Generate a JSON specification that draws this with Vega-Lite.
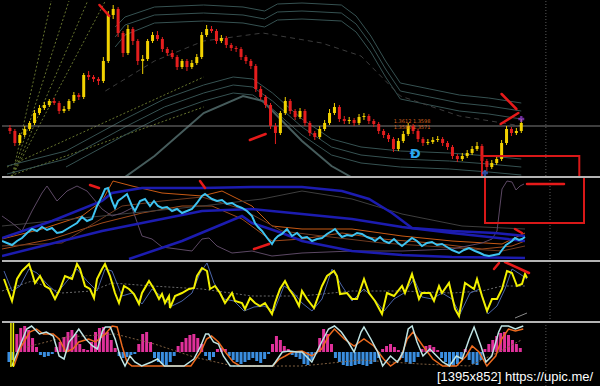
{
"$schema":"https://vega.github.io/schema/vega-lite/v6.json",
"background":"#000000",
"padding":0,
"spacing":0,
"bounds":"flush",
"config":{"view":{"stroke":null},"concat":{"spacing":0}},
"resolve":{"scale":{"color":"independent"}},
"datasets":{
"candles":[
{"x":3,"o":49,"c":46,"h":52,"l":43},{"x":8,"o":46,"c":34,"h":48,"l":31},{"x":13,"o":34,"c":42,"h":44,"l":32},{"x":18,"o":42,"c":48,"h":51,"l":40},{"x":23,"o":48,"c":54,"h":56,"l":46},{"x":28,"o":54,"c":64,"h":67,"l":52},{"x":33,"o":64,"c":69,"h":72,"l":62},{"x":38,"o":69,"c":72,"h":75,"l":67},{"x":43,"o":72,"c":76,"h":78,"l":70},{"x":48,"o":76,"c":74,"h":79,"l":72},{"x":53,"o":74,"c":66,"h":76,"l":63},{"x":58,"o":66,"c":68,"h":71,"l":64},{"x":63,"o":68,"c":76,"h":78,"l":66},{"x":68,"o":76,"c":82,"h":85,"l":74},{"x":73,"o":82,"c":80,"h":84,"l":77},{"x":78,"o":80,"c":102,"h":104,"l":78},{"x":83,"o":102,"c":100,"h":106,"l":97},{"x":88,"o":100,"c":98,"h":102,"l":95},{"x":93,"o":98,"c":96,"h":100,"l":92},{"x":98,"o":96,"c":116,"h":120,"l":94},{"x":103,"o":116,"c":162,"h":166,"l":114},{"x":108,"o":162,"c":168,"h":172,"l":158},{"x":113,"o":168,"c":144,"h":170,"l":140},{"x":118,"o":144,"c":124,"h":146,"l":120},{"x":123,"o":124,"c":148,"h":152,"l":122},{"x":128,"o":148,"c":136,"h":150,"l":132},{"x":133,"o":136,"c":116,"h":138,"l":112},{"x":138,"o":116,"c":118,"h":122,"l":103},{"x":143,"o":118,"c":136,"h":138,"l":116},{"x":148,"o":136,"c":142,"h":145,"l":134},{"x":153,"o":142,"c":138,"h":146,"l":136},{"x":158,"o":138,"c":128,"h":140,"l":125},{"x":163,"o":128,"c":124,"h":130,"l":121},{"x":168,"o":124,"c":120,"h":127,"l":118},{"x":173,"o":120,"c":110,"h":122,"l":107},{"x":178,"o":110,"c":116,"h":118,"l":108},{"x":183,"o":116,"c":110,"h":118,"l":106},{"x":188,"o":110,"c":114,"h":117,"l":108},{"x":193,"o":114,"c":120,"h":123,"l":112},{"x":198,"o":120,"c":142,"h":145,"l":118},{"x":203,"o":142,"c":148,"h":152,"l":140},{"x":208,"o":148,"c":146,"h":151,"l":144},{"x":213,"o":146,"c":136,"h":148,"l":133},{"x":218,"o":136,"c":139,"h":142,"l":134},{"x":223,"o":139,"c":132,"h":141,"l":129},{"x":228,"o":132,"c":129,"h":134,"l":126},{"x":233,"o":129,"c":128,"h":131,"l":125},{"x":238,"o":128,"c":120,"h":130,"l":117},{"x":243,"o":120,"c":116,"h":122,"l":113},{"x":248,"o":116,"c":111,"h":118,"l":108},{"x":253,"o":111,"c":88,"h":113,"l":85},{"x":258,"o":88,"c":80,"h":91,"l":77},{"x":263,"o":80,"c":72,"h":82,"l":69},{"x":268,"o":72,"c":51,"h":74,"l":48},{"x":273,"o":51,"c":44,"h":54,"l":33},{"x":278,"o":44,"c":64,"h":66,"l":42},{"x":283,"o":64,"c":76,"h":80,"l":62},{"x":288,"o":76,"c":66,"h":78,"l":63},{"x":293,"o":66,"c":60,"h":68,"l":57},{"x":298,"o":60,"c":66,"h":69,"l":58},{"x":303,"o":66,"c":54,"h":68,"l":51},{"x":308,"o":54,"c":44,"h":56,"l":41},{"x":313,"o":44,"c":40,"h":46,"l":37},{"x":318,"o":40,"c":48,"h":51,"l":38},{"x":323,"o":48,"c":54,"h":57,"l":46},{"x":328,"o":54,"c":64,"h":68,"l":52},{"x":333,"o":64,"c":70,"h":74,"l":62},{"x":338,"o":70,"c":58,"h":72,"l":55},{"x":343,"o":58,"c":56,"h":61,"l":53},{"x":348,"o":56,"c":57,"h":60,"l":53},{"x":353,"o":57,"c":54,"h":59,"l":51},{"x":358,"o":54,"c":60,"h":63,"l":52},{"x":363,"o":60,"c":61,"h":64,"l":57},{"x":368,"o":61,"c":56,"h":63,"l":53},{"x":373,"o":56,"c":53,"h":58,"l":50},{"x":378,"o":53,"c":46,"h":55,"l":43},{"x":383,"o":46,"c":42,"h":48,"l":39},{"x":388,"o":42,"c":38,"h":44,"l":35},{"x":393,"o":38,"c":28,"h":40,"l":25},{"x":398,"o":28,"c":36,"h":39,"l":26},{"x":403,"o":36,"c":43,"h":46,"l":34},{"x":408,"o":43,"c":51,"h":54,"l":41},{"x":413,"o":51,"c":46,"h":53,"l":43},{"x":418,"o":46,"c":38,"h":48,"l":35},{"x":423,"o":38,"c":34,"h":40,"l":31},{"x":428,"o":34,"c":35,"h":38,"l":32},{"x":433,"o":35,"c":37,"h":40,"l":33},{"x":438,"o":37,"c":38,"h":41,"l":35},{"x":443,"o":38,"c":34,"h":40,"l":31},{"x":448,"o":34,"c":30,"h":36,"l":27},{"x":453,"o":30,"c":21,"h":32,"l":18},{"x":458,"o":21,"c":18,"h":23,"l":15},{"x":463,"o":18,"c":21,"h":24,"l":16},{"x":468,"o":21,"c":24,"h":27,"l":19},{"x":473,"o":24,"c":28,"h":31,"l":22},{"x":478,"o":28,"c":31,"h":35,"l":26},{"x":483,"o":31,"c":16,"h":33,"l":13},{"x":488,"o":16,"c":10,"h":18,"l":6},{"x":493,"o":10,"c":14,"h":17,"l":8},{"x":498,"o":14,"c":18,"h":21,"l":12},{"x":503,"o":18,"c":34,"h":37,"l":16},{"x":508,"o":34,"c":48,"h":51,"l":32},{"x":513,"o":48,"c":44,"h":50,"l":41},{"x":518,"o":44,"c":46,"h":49,"l":42},{"x":523,"o":46,"c":54,"h":58,"l":44}
],
"bands":[
{"s":"ub1","x":110,"v":150},{"s":"ub1","x":120,"v":160},{"s":"ub1","x":150,"v":170},{"s":"ub1","x":200,"v":172},{"s":"ub1","x":240,"v":170},{"s":"ub1","x":262,"v":166},{"s":"ub1","x":275,"v":173},{"s":"ub1","x":300,"v":174},{"s":"ub1","x":340,"v":172},{"s":"ub1","x":355,"v":161},{"s":"ub1","x":370,"v":141},{"s":"ub1","x":385,"v":116},{"s":"ub1","x":400,"v":94},{"s":"ub1","x":430,"v":88},{"s":"ub1","x":460,"v":82},{"s":"ub1","x":490,"v":79},{"s":"ub1","x":523,"v":74},
{"s":"ub2","x":110,"v":140},{"s":"ub2","x":120,"v":152},{"s":"ub2","x":150,"v":162},{"s":"ub2","x":200,"v":164},{"s":"ub2","x":240,"v":162},{"s":"ub2","x":262,"v":158},{"s":"ub2","x":275,"v":165},{"s":"ub2","x":300,"v":166},{"s":"ub2","x":340,"v":164},{"s":"ub2","x":355,"v":153},{"s":"ub2","x":370,"v":133},{"s":"ub2","x":385,"v":108},{"s":"ub2","x":400,"v":86},{"s":"ub2","x":430,"v":80},{"s":"ub2","x":460,"v":74},{"s":"ub2","x":490,"v":71},{"s":"ub2","x":523,"v":66},
{"s":"ub3","x":110,"v":130},{"s":"ub3","x":120,"v":142},{"s":"ub3","x":150,"v":154},{"s":"ub3","x":200,"v":156},{"s":"ub3","x":240,"v":154},{"s":"ub3","x":262,"v":150},{"s":"ub3","x":275,"v":157},{"s":"ub3","x":300,"v":158},{"s":"ub3","x":340,"v":156},{"s":"ub3","x":355,"v":145},{"s":"ub3","x":370,"v":125},{"s":"ub3","x":385,"v":100},{"s":"ub3","x":400,"v":78},{"s":"ub3","x":430,"v":72},{"s":"ub3","x":460,"v":66},{"s":"ub3","x":490,"v":63},{"s":"ub3","x":523,"v":58},
{"s":"lb1","x":0,"v":11},{"s":"lb1","x":60,"v":26},{"s":"lb1","x":120,"v":58},{"s":"lb1","x":160,"v":78},{"s":"lb1","x":200,"v":92},{"s":"lb1","x":230,"v":100},{"s":"lb1","x":250,"v":98},{"s":"lb1","x":270,"v":84},{"s":"lb1","x":300,"v":58},{"s":"lb1","x":330,"v":38},{"s":"lb1","x":360,"v":30},{"s":"lb1","x":400,"v":26},{"s":"lb1","x":450,"v":24},{"s":"lb1","x":490,"v":21},{"s":"lb1","x":523,"v":18},
{"s":"lb2","x":0,"v":3},{"s":"lb2","x":60,"v":18},{"s":"lb2","x":120,"v":50},{"s":"lb2","x":160,"v":70},{"s":"lb2","x":200,"v":84},{"s":"lb2","x":230,"v":92},{"s":"lb2","x":250,"v":90},{"s":"lb2","x":270,"v":76},{"s":"lb2","x":300,"v":50},{"s":"lb2","x":330,"v":30},{"s":"lb2","x":360,"v":22},{"s":"lb2","x":400,"v":18},{"s":"lb2","x":450,"v":16},{"s":"lb2","x":490,"v":13},{"s":"lb2","x":523,"v":10},
{"s":"lb3","x":60,"v":10},{"s":"lb3","x":120,"v":42},{"s":"lb3","x":160,"v":62},{"s":"lb3","x":200,"v":76},{"s":"lb3","x":230,"v":84},{"s":"lb3","x":250,"v":82},{"s":"lb3","x":270,"v":68},{"s":"lb3","x":300,"v":42},{"s":"lb3","x":330,"v":22},{"s":"lb3","x":360,"v":14},{"s":"lb3","x":400,"v":10},{"s":"lb3","x":450,"v":8},{"s":"lb3","x":490,"v":5},{"s":"lb3","x":523,"v":2}
],
"lb4":[{"x":120,"v":0},{"x":150,"v":21},{"x":200,"v":64},{"x":240,"v":81},{"x":260,"v":76},{"x":300,"v":36},{"x":330,"v":11},{"x":350,"v":0}],
"mid":[{"x":100,"v":86},{"x":150,"v":116},{"x":200,"v":136},{"x":260,"v":144},{"x":320,"v":134},{"x":360,"v":121},{"x":400,"v":81},{"x":460,"v":61},{"x":523,"v":51}],
"fans":[{"s":"f1","x":5,"v":0},{"s":"f1","x":45,"v":176},{"s":"f2","x":5,"v":0},{"s":"f2","x":63,"v":176},{"s":"f3","x":5,"v":0},{"s":"f3","x":82,"v":176},{"s":"f4","x":5,"v":0},{"s":"f4","x":100,"v":176},{"s":"f5","x":0,"v":10},{"s":"f5","x":200,"v":100},{"s":"f6","x":0,"v":0},{"s":"f6","x":200,"v":70}],
"arr1":[{"x":94,"v":172,"x2":104,"v2":161},{"x":247,"v":37,"x2":263,"v2":43},{"x":503,"v":83,"x2":518,"v2":68},{"x":502,"v":53,"x2":520,"v2":64}],
"cyan":[{"x":0,"v":20},{"x":5,"v":18},{"x":10,"v":16},{"x":15,"v":20},{"x":20,"v":23},{"x":25,"v":28},{"x":30,"v":32},{"x":35,"v":30},{"x":40,"v":34},{"x":45,"v":31},{"x":50,"v":33},{"x":55,"v":28},{"x":60,"v":29},{"x":65,"v":32},{"x":70,"v":35},{"x":75,"v":38},{"x":80,"v":44},{"x":85,"v":40},{"x":90,"v":42},{"x":95,"v":55},{"x":100,"v":65},{"x":103,"v":72},{"x":106,"v":73},{"x":110,"v":60},{"x":113,"v":53},{"x":116,"v":60},{"x":120,"v":63},{"x":125,"v":67},{"x":130,"v":55},{"x":133,"v":50},{"x":138,"v":60},{"x":143,"v":62},{"x":148,"v":55},{"x":152,"v":60},{"x":156,"v":55},{"x":160,"v":53},{"x":165,"v":54},{"x":170,"v":50},{"x":175,"v":52},{"x":180,"v":48},{"x":185,"v":50},{"x":190,"v":52},{"x":195,"v":58},{"x":200,"v":65},{"x":203,"v":67},{"x":207,"v":64},{"x":210,"v":62},{"x":215,"v":60},{"x":220,"v":61},{"x":225,"v":57},{"x":230,"v":58},{"x":235,"v":55},{"x":240,"v":53},{"x":245,"v":50},{"x":250,"v":45},{"x":253,"v":38},{"x":256,"v":34},{"x":260,"v":30},{"x":263,"v":26},{"x":266,"v":22},{"x":270,"v":17},{"x":273,"v":22},{"x":276,"v":25},{"x":280,"v":27},{"x":285,"v":32},{"x":290,"v":25},{"x":295,"v":28},{"x":300,"v":23},{"x":305,"v":24},{"x":310,"v":20},{"x":315,"v":22},{"x":320,"v":23},{"x":325,"v":27},{"x":330,"v":30},{"x":333,"v":32},{"x":337,"v":27},{"x":340,"v":24},{"x":345,"v":26},{"x":350,"v":25},{"x":355,"v":28},{"x":360,"v":27},{"x":365,"v":24},{"x":370,"v":22},{"x":373,"v":20},{"x":378,"v":24},{"x":382,"v":20},{"x":387,"v":18},{"x":392,"v":22},{"x":396,"v":18},{"x":400,"v":15},{"x":405,"v":19},{"x":410,"v":23},{"x":415,"v":20},{"x":420,"v":15},{"x":425,"v":18},{"x":430,"v":19},{"x":435,"v":16},{"x":440,"v":17},{"x":445,"v":14},{"x":450,"v":11},{"x":457,"v":8},{"x":462,"v":11},{"x":467,"v":13},{"x":473,"v":10},{"x":478,"v":8},{"x":482,"v":6},{"x":487,"v":5},{"x":492,"v":6},{"x":497,"v":7},{"x":500,"v":11},{"x":504,"v":16},{"x":507,"v":18},{"x":510,"v":20},{"x":513,"v":23},{"x":517,"v":21},{"x":520,"v":22},{"x":523,"v":24}],
"blue2":[
{"s":"b1","x":0,"v":23},{"s":"b1","x":50,"v":40},{"s":"b1","x":100,"v":60},{"s":"b1","x":110,"v":68},{"s":"b1","x":140,"v":73},{"s":"b1","x":200,"v":73},{"s":"b1","x":250,"v":74},{"s":"b1","x":300,"v":74},{"s":"b1","x":340,"v":70},{"s":"b1","x":367,"v":62},{"s":"b1","x":390,"v":48},{"s":"b1","x":410,"v":33},{"s":"b1","x":450,"v":30},{"s":"b1","x":493,"v":28},{"s":"b1","x":523,"v":25},
{"s":"b2","x":0,"v":5},{"s":"b2","x":100,"v":30},{"s":"b2","x":200,"v":50},{"s":"b2","x":250,"v":52},{"s":"b2","x":300,"v":47},{"s":"b2","x":350,"v":42},{"s":"b2","x":400,"v":34},{"s":"b2","x":450,"v":28},{"s":"b2","x":523,"v":20},
{"s":"b3","x":127,"v":2},{"s":"b3","x":180,"v":20},{"s":"b3","x":240,"v":45},{"s":"b3","x":250,"v":38},{"s":"b3","x":280,"v":28},{"s":"b3","x":300,"v":20},{"s":"b3","x":350,"v":10},{"s":"b3","x":400,"v":6},{"s":"b3","x":450,"v":4},{"s":"b3","x":523,"v":3}
],
"thin2":[
{"s":"o1","x":0,"v":22},{"s":"o1","x":40,"v":32},{"s":"o1","x":80,"v":45},{"s":"o1","x":100,"v":60},{"s":"o1","x":111,"v":80},{"s":"o1","x":130,"v":75},{"s":"o1","x":160,"v":68},{"s":"o1","x":200,"v":65},{"s":"o1","x":220,"v":70},{"s":"o1","x":250,"v":55},{"s":"o1","x":270,"v":35},{"s":"o1","x":300,"v":32},{"s":"o1","x":350,"v":32},{"s":"o1","x":400,"v":25},{"s":"o1","x":450,"v":20},{"s":"o1","x":500,"v":17},{"s":"o1","x":523,"v":28},
{"s":"o2","x":0,"v":12},{"s":"o2","x":50,"v":22},{"s":"o2","x":100,"v":38},{"s":"o2","x":140,"v":48},{"s":"o2","x":180,"v":55},{"s":"o2","x":210,"v":55},{"s":"o2","x":240,"v":42},{"s":"o2","x":270,"v":20},{"s":"o2","x":300,"v":22},{"s":"o2","x":340,"v":28},{"s":"o2","x":380,"v":22},{"s":"o2","x":430,"v":18},{"s":"o2","x":480,"v":12},{"s":"o2","x":510,"v":15},{"s":"o2","x":523,"v":20},
{"s":"o3","x":0,"v":15},{"s":"o3","x":60,"v":18},{"s":"o3","x":120,"v":55},{"s":"o3","x":160,"v":60},{"s":"o3","x":200,"v":64},{"s":"o3","x":240,"v":52},{"s":"o3","x":280,"v":30},{"s":"o3","x":320,"v":25},{"s":"o3","x":380,"v":18},{"s":"o3","x":440,"v":14},{"s":"o3","x":500,"v":10},{"s":"o3","x":523,"v":15},
{"s":"gray","x":0,"v":35},{"s":"gray","x":100,"v":45},{"s":"gray","x":200,"v":55},{"s":"gray","x":260,"v":62},{"s":"gray","x":300,"v":70},{"s":"gray","x":350,"v":62},{"s":"gray","x":400,"v":47},{"s":"gray","x":460,"v":35},{"s":"gray","x":523,"v":32},
{"s":"purple","x":0,"v":45},{"s":"purple","x":10,"v":38},{"s":"purple","x":20,"v":30},{"s":"purple","x":30,"v":50},{"s":"purple","x":40,"v":68},{"s":"purple","x":45,"v":75},{"s":"purple","x":55,"v":60},{"s":"purple","x":65,"v":70},{"s":"purple","x":75,"v":75},{"s":"purple","x":85,"v":70},{"s":"purple","x":100,"v":52},{"s":"purple","x":110,"v":45},{"s":"purple","x":120,"v":48},{"s":"purple","x":130,"v":53},{"s":"purple","x":140,"v":25},{"s":"purple","x":150,"v":22},{"s":"purple","x":160,"v":14},{"s":"purple","x":175,"v":12},{"s":"purple","x":190,"v":10},{"s":"purple","x":200,"v":22},{"s":"purple","x":207,"v":23},{"s":"purple","x":215,"v":15},{"s":"purple","x":230,"v":8},{"s":"purple","x":250,"v":10},{"s":"purple","x":270,"v":5},{"s":"purple","x":300,"v":8},{"s":"purple","x":350,"v":10},{"s":"purple","x":400,"v":10},{"s":"purple","x":450,"v":12},{"s":"purple","x":480,"v":18},{"s":"purple","x":490,"v":22},{"s":"purple","x":495,"v":30},{"s":"purple","x":500,"v":72},{"s":"purple","x":505,"v":80},{"s":"purple","x":510,"v":79},{"s":"purple","x":514,"v":71},{"s":"purple","x":518,"v":75},{"s":"purple","x":522,"v":77}
],
"arr2":[{"x":88,"v":76,"x2":97,"v2":73},{"x":198,"v":80,"x2":203,"v2":73},{"x":252,"v":12,"x2":267,"v2":17},{"x":513,"v":32,"x2":520,"v2":28},{"x":525,"v":77,"x2":562,"v2":77}],
"yel":[{"x":2,"v":43},{"x":7,"v":29},{"x":10,"v":21},{"x":15,"v":43},{"x":20,"v":51},{"x":27,"v":58},{"x":30,"v":49},{"x":33,"v":39},{"x":38,"v":46},{"x":43,"v":36},{"x":48,"v":33},{"x":53,"v":23},{"x":58,"v":33},{"x":63,"v":46},{"x":70,"v":43},{"x":75,"v":58},{"x":78,"v":53},{"x":83,"v":36},{"x":88,"v":33},{"x":92,"v":24},{"x":95,"v":43},{"x":100,"v":53},{"x":103,"v":58},{"x":108,"v":46},{"x":113,"v":29},{"x":117,"v":19},{"x":122,"v":36},{"x":127,"v":33},{"x":132,"v":28},{"x":137,"v":18},{"x":140,"v":29},{"x":147,"v":41},{"x":152,"v":33},{"x":157,"v":23},{"x":160,"v":28},{"x":163,"v":19},{"x":167,"v":26},{"x":168,"v":14},{"x":173,"v":26},{"x":180,"v":29},{"x":187,"v":33},{"x":192,"v":34},{"x":195,"v":46},{"x":200,"v":54},{"x":205,"v":51},{"x":208,"v":33},{"x":213,"v":36},{"x":218,"v":29},{"x":223,"v":19},{"x":230,"v":29},{"x":233,"v":21},{"x":240,"v":19},{"x":243,"v":13},{"x":248,"v":24},{"x":253,"v":19},{"x":258,"v":16},{"x":263,"v":19},{"x":270,"v":8},{"x":273,"v":19},{"x":278,"v":33},{"x":283,"v":41},{"x":287,"v":33},{"x":292,"v":26},{"x":297,"v":16},{"x":300,"v":31},{"x":305,"v":23},{"x":312,"v":14},{"x":320,"v":36},{"x":325,"v":46},{"x":332,"v":51},{"x":335,"v":46},{"x":338,"v":28},{"x":345,"v":29},{"x":350,"v":23},{"x":355,"v":23},{"x":362,"v":43},{"x":367,"v":29},{"x":373,"v":21},{"x":380,"v":8},{"x":385,"v":29},{"x":392,"v":26},{"x":400,"v":36},{"x":403,"v":29},{"x":410,"v":48},{"x":417,"v":23},{"x":420,"v":29},{"x":428,"v":29},{"x":432,"v":21},{"x":437,"v":36},{"x":440,"v":29},{"x":447,"v":39},{"x":453,"v":13},{"x":457,"v":6},{"x":463,"v":39},{"x":472,"v":33},{"x":475,"v":43},{"x":480,"v":26},{"x":485,"v":11},{"x":490,"v":23},{"x":495,"v":23},{"x":500,"v":33},{"x":505,"v":51},{"x":510,"v":49},{"x":515,"v":36},{"x":520,"v":38},{"x":523,"v":48},{"x":525,"v":44}],
"lag":[{"x":2,"v":51},{"x":10,"v":31},{"x":18,"v":36},{"x":27,"v":53},{"x":35,"v":49},{"x":45,"v":38},{"x":55,"v":29},{"x":65,"v":41},{"x":75,"v":53},{"x":85,"v":41},{"x":95,"v":31},{"x":103,"v":53},{"x":110,"v":51},{"x":120,"v":26},{"x":130,"v":29},{"x":140,"v":18},{"x":150,"v":33},{"x":160,"v":25},{"x":170,"v":16},{"x":180,"v":21},{"x":190,"v":29},{"x":198,"v":49},{"x":205,"v":59},{"x":212,"v":39},{"x":222,"v":23},{"x":232,"v":21},{"x":242,"v":11},{"x":252,"v":15},{"x":262,"v":16},{"x":272,"v":11},{"x":282,"v":36},{"x":290,"v":31},{"x":300,"v":19},{"x":310,"v":11},{"x":320,"v":23},{"x":330,"v":53},{"x":340,"v":36},{"x":350,"v":21},{"x":362,"v":33},{"x":372,"v":23},{"x":382,"v":11},{"x":392,"v":23},{"x":402,"v":29},{"x":412,"v":43},{"x":420,"v":25},{"x":430,"v":23},{"x":440,"v":29},{"x":450,"v":23},{"x":458,"v":8},{"x":468,"v":29},{"x":478,"v":33},{"x":486,"v":8},{"x":495,"v":16},{"x":503,"v":33},{"x":510,"v":53},{"x":518,"v":48},{"x":525,"v":43}],
"dot3":[{"x":0,"v":31},{"x":30,"v":41},{"x":60,"v":29},{"x":90,"v":31},{"x":110,"v":39},{"x":150,"v":36},{"x":200,"v":33},{"x":250,"v":26},{"x":300,"v":26},{"x":350,"v":31},{"x":400,"v":31},{"x":450,"v":29},{"x":480,"v":31},{"x":500,"v":36},{"x":523,"v":36}],
"arr3":[{"x":492,"v":53,"x2":497,"v2":59},{"x":503,"v":60,"x2":527,"v2":49}],
"hist":[{"x":2,"v":-10},{"x":6,"v":-8},{"x":10,"v":18},{"x":14,"v":24},{"x":18,"v":26},{"x":22,"v":22},{"x":26,"v":14},{"x":30,"v":5},{"x":34,"v":-3},{"x":38,"v":-5},{"x":42,"v":-4},{"x":46,"v":-2},{"x":50,"v":5},{"x":54,"v":10},{"x":58,"v":15},{"x":62,"v":20},{"x":66,"v":22},{"x":70,"v":18},{"x":74,"v":8},{"x":78,"v":3},{"x":82,"v":2},{"x":86,"v":10},{"x":90,"v":20},{"x":94,"v":24},{"x":98,"v":25},{"x":102,"v":20},{"x":106,"v":12},{"x":110,"v":4},{"x":114,"v":-4},{"x":118,"v":-6},{"x":122,"v":-5},{"x":126,"v":-3},{"x":130,"v":-2},{"x":134,"v":8},{"x":138,"v":18},{"x":142,"v":20},{"x":146,"v":10},{"x":150,"v":-6},{"x":154,"v":-10},{"x":158,"v":-12},{"x":162,"v":-13},{"x":166,"v":-10},{"x":170,"v":-4},{"x":174,"v":6},{"x":178,"v":10},{"x":182,"v":14},{"x":186,"v":17},{"x":190,"v":18},{"x":194,"v":14},{"x":198,"v":8},{"x":202,"v":-4},{"x":206,"v":-8},{"x":210,"v":-5},{"x":214,"v":3},{"x":218,"v":4},{"x":222,"v":3},{"x":226,"v":-4},{"x":230,"v":-8},{"x":234,"v":-10},{"x":238,"v":-12},{"x":242,"v":-10},{"x":246,"v":-8},{"x":250,"v":-6},{"x":254,"v":-9},{"x":258,"v":-11},{"x":262,"v":-7},{"x":266,"v":-2},{"x":270,"v":8},{"x":274,"v":16},{"x":278,"v":12},{"x":282,"v":6},{"x":286,"v":3},{"x":290,"v":-3},{"x":294,"v":-5},{"x":298,"v":-7},{"x":302,"v":-12},{"x":306,"v":-13},{"x":310,"v":-8},{"x":314,"v":-2},{"x":318,"v":14},{"x":322,"v":23},{"x":326,"v":18},{"x":330,"v":8},{"x":334,"v":-6},{"x":338,"v":-10},{"x":342,"v":-13},{"x":346,"v":-14},{"x":350,"v":-14},{"x":354,"v":-13},{"x":358,"v":-12},{"x":362,"v":-13},{"x":366,"v":-14},{"x":370,"v":-12},{"x":374,"v":-10},{"x":378,"v":-6},{"x":382,"v":3},{"x":386,"v":6},{"x":390,"v":8},{"x":394,"v":5},{"x":398,"v":2},{"x":402,"v":-6},{"x":406,"v":-10},{"x":410,"v":-12},{"x":414,"v":-10},{"x":418,"v":-5},{"x":422,"v":3},{"x":426,"v":6},{"x":430,"v":7},{"x":434,"v":5},{"x":438,"v":2},{"x":442,"v":-6},{"x":446,"v":-10},{"x":450,"v":-13},{"x":454,"v":-14},{"x":458,"v":-12},{"x":462,"v":-6},{"x":466,"v":3},{"x":470,"v":-8},{"x":474,"v":-12},{"x":478,"v":-13},{"x":482,"v":-8},{"x":486,"v":3},{"x":490,"v":8},{"x":494,"v":12},{"x":498,"v":16},{"x":502,"v":19},{"x":506,"v":20},{"x":510,"v":17},{"x":514,"v":12},{"x":518,"v":8},{"x":522,"v":4}],
"light":[{"x":5,"v":-14},{"x":20,"v":23},{"x":25,"v":26},{"x":33,"v":18},{"x":40,"v":20},{"x":47,"v":16},{"x":53,"v":-4},{"x":58,"v":-7},{"x":63,"v":10},{"x":68,"v":16},{"x":73,"v":23},{"x":80,"v":13},{"x":87,"v":6},{"x":92,"v":3},{"x":97,"v":21},{"x":100,"v":25},{"x":105,"v":25},{"x":110,"v":13},{"x":115,"v":-4},{"x":120,"v":-14},{"x":125,"v":-4},{"x":130,"v":-10},{"x":137,"v":-14},{"x":147,"v":-10},{"x":153,"v":-7},{"x":160,"v":-14},{"x":180,"v":-14},{"x":190,"v":-7},{"x":197,"v":6},{"x":202,"v":18},{"x":205,"v":18},{"x":210,"v":10},{"x":215,"v":8},{"x":220,"v":-4},{"x":227,"v":-14},{"x":270,"v":-14},{"x":273,"v":-10},{"x":280,"v":0},{"x":287,"v":1},{"x":295,"v":0},{"x":300,"v":0},{"x":310,"v":-10},{"x":320,"v":10},{"x":327,"v":23},{"x":333,"v":26},{"x":340,"v":20},{"x":347,"v":10},{"x":353,"v":0},{"x":360,"v":20},{"x":363,"v":25},{"x":370,"v":13},{"x":377,"v":0},{"x":382,"v":-14},{"x":390,"v":-4},{"x":397,"v":-10},{"x":403,"v":0},{"x":408,"v":23},{"x":412,"v":26},{"x":417,"v":10},{"x":423,"v":-4},{"x":430,"v":3},{"x":437,"v":-4},{"x":443,"v":-10},{"x":450,"v":-14},{"x":457,"v":-4},{"x":463,"v":-7},{"x":470,"v":13},{"x":475,"v":25},{"x":482,"v":6},{"x":487,"v":-10},{"x":493,"v":-4},{"x":500,"v":20},{"x":503,"v":26},{"x":510,"v":26},{"x":517,"v":23},{"x":525,"v":26}],
"orange":[{"x":7,"v":-14},{"x":13,"v":3},{"x":23,"v":20},{"x":30,"v":23},{"x":37,"v":18},{"x":47,"v":18},{"x":53,"v":13},{"x":60,"v":0},{"x":67,"v":3},{"x":73,"v":10},{"x":83,"v":13},{"x":90,"v":10},{"x":100,"v":18},{"x":107,"v":26},{"x":112,"v":25},{"x":117,"v":6},{"x":122,"v":-10},{"x":127,"v":-14},{"x":187,"v":-14},{"x":197,"v":0},{"x":203,"v":13},{"x":208,"v":16},{"x":215,"v":10},{"x":222,"v":0},{"x":230,"v":-10},{"x":237,"v":-14},{"x":270,"v":-14},{"x":277,"v":-7},{"x":283,"v":-4},{"x":290,"v":0},{"x":300,"v":1},{"x":310,"v":-4},{"x":320,"v":3},{"x":327,"v":16},{"x":333,"v":23},{"x":343,"v":13},{"x":353,"v":6},{"x":363,"v":13},{"x":373,"v":6},{"x":383,"v":-7},{"x":390,"v":-14},{"x":400,"v":-7},{"x":407,"v":13},{"x":413,"v":20},{"x":423,"v":6},{"x":433,"v":-7},{"x":443,"v":-14},{"x":457,"v":-14},{"x":467,"v":-4},{"x":473,"v":6},{"x":480,"v":0},{"x":488,"v":-14},{"x":497,"v":-4},{"x":503,"v":13},{"x":510,"v":23},{"x":517,"v":21},{"x":525,"v":23}],
"dot4":[{"x":20,"v":5},{"x":60,"v":15},{"x":110,"v":18},{"x":150,"v":8},{"x":190,"v":-5},{"x":230,"v":-14},{"x":300,"v":-14},{"x":360,"v":-8},{"x":420,"v":-12},{"x":470,"v":-14},{"x":500,"v":0},{"x":523,"v":12}]
},
"vconcat":[
{"width":600,"height":176,
"layer":[
{"data":{"name":"fans"},"mark":{"type":"line","color":"#66742e","strokeWidth":1,"strokeDash":[2,2],"clip":true},"encoding":{"x":{"field":"x","type":"quantitative","scale":{"domain":[0,600],"nice":false,"zero":false},"axis":null},"y":{"field":"v","type":"quantitative","scale":{"domain":[0,176],"nice":false,"zero":false},"axis":null},"detail":{"field":"s"}}},
{"data":{"name":"bands"},"mark":{"type":"line","color":"#365252","strokeWidth":1,"clip":true},"encoding":{"x":{"field":"x","type":"quantitative","scale":{"domain":[0,600],"nice":false,"zero":false},"axis":null},"y":{"field":"v","type":"quantitative","scale":{"domain":[0,176],"nice":false,"zero":false},"axis":null},"detail":{"field":"s"}}},
{"data":{"name":"lb4"},"mark":{"type":"line","color":"#465c5c","strokeWidth":2,"clip":true},"encoding":{"x":{"field":"x","type":"quantitative","scale":{"domain":[0,600],"nice":false,"zero":false},"axis":null},"y":{"field":"v","type":"quantitative","scale":{"domain":[0,176],"nice":false,"zero":false},"axis":null}}},
{"data":{"name":"mid"},"mark":{"type":"line","color":"#3c3c3c","strokeWidth":1,"strokeDash":[5,4],"clip":true},"encoding":{"x":{"field":"x","type":"quantitative","scale":{"domain":[0,600],"nice":false,"zero":false},"axis":null},"y":{"field":"v","type":"quantitative","scale":{"domain":[0,176],"nice":false,"zero":false},"axis":null}}},
{"data":{"values":[{}]},"mark":{"type":"rule","color":"#7c7c7c","strokeWidth":1},"encoding":{"y":{"datum":51,"type":"quantitative","scale":{"domain":[0,176],"nice":false,"zero":false},"axis":null}}},
{"data":{"values":[{}]},"mark":{"type":"rule","color":"#5a5a5a","strokeDash":[1,2]},"encoding":{"x":{"datum":548,"type":"quantitative","scale":{"domain":[0,600],"nice":false,"zero":false},"axis":null}}},
{"data":{"name":"candles"},"mark":{"type":"rule","strokeWidth":1,"clip":true},"encoding":{"x":{"field":"x","type":"quantitative","scale":{"domain":[0,600],"nice":false,"zero":false},"axis":null},"y":{"field":"l","type":"quantitative","scale":{"domain":[0,176],"nice":false,"zero":false},"axis":null},"y2":{"field":"h"},"color":{"condition":{"test":"datum.c > datum.o","value":"#f2d200"},"value":"#e41e1e"}}},
{"data":{"name":"candles"},"mark":{"type":"bar","size":3,"clip":true},"encoding":{"x":{"field":"x","type":"quantitative","scale":{"domain":[0,600],"nice":false,"zero":false},"axis":null},"y":{"field":"o","type":"quantitative","scale":{"domain":[0,176],"nice":false,"zero":false},"axis":null},"y2":{"field":"c"},"color":{"condition":{"test":"datum.c > datum.o","value":"#f2d200"},"value":"#e41e1e"}}},
{"data":{"name":"arr1"},"mark":{"type":"rule","color":"#e61a1a","strokeWidth":2.5,"strokeCap":"round","clip":true},"encoding":{"x":{"field":"x","type":"quantitative","scale":{"domain":[0,600],"nice":false,"zero":false},"axis":null},"x2":{"field":"x2"},"y":{"field":"v","type":"quantitative","scale":{"domain":[0,176],"nice":false,"zero":false},"axis":null},"y2":{"field":"v2"}}},
{"data":{"values":[{"x":483,"x2":582,"v":21,"v2":-20}]},"mark":{"type":"rect","fillOpacity":0,"stroke":"#d81818","strokeWidth":2,"clip":true},"encoding":{"x":{"field":"x","type":"quantitative","scale":{"domain":[0,600],"nice":false,"zero":false},"axis":null},"x2":{"field":"x2"},"y":{"field":"v","type":"quantitative","scale":{"domain":[0,176],"nice":false,"zero":false},"axis":null},"y2":{"field":"v2"}}},
{"data":{"values":[{"x":415,"v":23,"t":"Đ"}]},"mark":{"type":"text","color":"#2aa8f0","fontSize":13,"fontWeight":"bold","font":"DejaVu Sans"},"encoding":{"x":{"field":"x","type":"quantitative","scale":{"domain":[0,600],"nice":false,"zero":false},"axis":null},"y":{"field":"v","type":"quantitative","scale":{"domain":[0,176],"nice":false,"zero":false},"axis":null},"text":{"field":"t"}}},
{"data":{"values":[{"x":412,"v":56,"t":"1.3612 1.3598"},{"x":412,"v":50,"t":"1.3580 1.3571"}]},"mark":{"type":"text","color":"#d8641e","fontSize":5,"font":"DejaVu Sans"},"encoding":{"x":{"field":"x","type":"quantitative","scale":{"domain":[0,600],"nice":false,"zero":false},"axis":null},"y":{"field":"v","type":"quantitative","scale":{"domain":[0,176],"nice":false,"zero":false},"axis":null},"text":{"field":"t"}}},
{"data":{"values":[{"x":523,"v":58,"k":"a"},{"x":486,"v":4,"k":"b"}]},"mark":{"type":"point","shape":"cross","filled":true,"size":35},"encoding":{"x":{"field":"x","type":"quantitative","scale":{"domain":[0,600],"nice":false,"zero":false},"axis":null},"y":{"field":"v","type":"quantitative","scale":{"domain":[0,176],"nice":false,"zero":false},"axis":null},"color":{"condition":{"test":"datum.k == 'a'","value":"#a040e0"},"value":"#3a6ae0"}}}
]},
{"width":600,"height":84,
"layer":[
{"data":{"values":[{}]},"mark":{"type":"rule","color":"#5a5a5a","strokeDash":[1,2]},"encoding":{"x":{"datum":548,"type":"quantitative","scale":{"domain":[0,600],"nice":false,"zero":false},"axis":null}}},
{"data":{"name":"thin2"},"mark":{"type":"line","strokeWidth":1,"clip":true},"encoding":{"x":{"field":"x","type":"quantitative","scale":{"domain":[0,600],"nice":false,"zero":false},"axis":null},"y":{"field":"v","type":"quantitative","scale":{"domain":[0,84],"nice":false,"zero":false},"axis":null},"color":{"field":"s","type":"nominal","scale":{"domain":["o1","o2","o3","gray","purple"],"range":["#c85a14","#a04a1a","#6e3a20","#3e3e3e","#5c4864"]},"legend":null}}},
{"data":{"name":"blue2"},"mark":{"type":"line","color":"#1c1cb0","strokeWidth":2.5,"clip":true},"encoding":{"x":{"field":"x","type":"quantitative","scale":{"domain":[0,600],"nice":false,"zero":false},"axis":null},"y":{"field":"v","type":"quantitative","scale":{"domain":[0,84],"nice":false,"zero":false},"axis":null},"detail":{"field":"s"}}},
{"data":{"name":"cyan"},"mark":{"type":"line","color":"#3ec4f2","strokeWidth":2,"clip":true},"encoding":{"x":{"field":"x","type":"quantitative","scale":{"domain":[0,600],"nice":false,"zero":false},"axis":null},"y":{"field":"v","type":"quantitative","scale":{"domain":[0,84],"nice":false,"zero":false},"axis":null}}},
{"data":{"name":"arr2"},"mark":{"type":"rule","color":"#e61a1a","strokeWidth":2.5,"strokeCap":"round","clip":true},"encoding":{"x":{"field":"x","type":"quantitative","scale":{"domain":[0,600],"nice":false,"zero":false},"axis":null},"x2":{"field":"x2"},"y":{"field":"v","type":"quantitative","scale":{"domain":[0,84],"nice":false,"zero":false},"axis":null},"y2":{"field":"v2"}}},
{"data":{"values":[{"x":483,"x2":582,"v":120,"v2":38}]},"mark":{"type":"rect","fillOpacity":0,"stroke":"#d81818","strokeWidth":2,"clip":true},"encoding":{"x":{"field":"x","type":"quantitative","scale":{"domain":[0,600],"nice":false,"zero":false},"axis":null},"x2":{"field":"x2"},"y":{"field":"v","type":"quantitative","scale":{"domain":[0,84],"nice":false,"zero":false},"axis":null},"y2":{"field":"v2"}}},
{"data":{"values":[{}]},"mark":{"type":"rule","color":"#b4b4b4","strokeWidth":2},"encoding":{"y":{"datum":84,"type":"quantitative","scale":{"domain":[0,84],"nice":false,"zero":false},"axis":null}}}
]},
{"width":600,"height":61,
"layer":[
{"data":{"values":[{}]},"mark":{"type":"rule","color":"#5a5a5a","strokeDash":[1,2]},"encoding":{"x":{"datum":548,"type":"quantitative","scale":{"domain":[0,600],"nice":false,"zero":false},"axis":null}}},
{"data":{"name":"dot3"},"mark":{"type":"line","color":"#6a6a6a","strokeWidth":1,"strokeDash":[2,2]},"encoding":{"x":{"field":"x","type":"quantitative","scale":{"domain":[0,600],"nice":false,"zero":false},"axis":null},"y":{"field":"v","type":"quantitative","scale":{"domain":[0,61],"nice":false,"zero":false},"axis":null}}},
{"data":{"name":"lag"},"mark":{"type":"line","color":"#4a64a8","strokeWidth":1},"encoding":{"x":{"field":"x","type":"quantitative","scale":{"domain":[0,600],"nice":false,"zero":false},"axis":null},"y":{"field":"v","type":"quantitative","scale":{"domain":[0,61],"nice":false,"zero":false},"axis":null}}},
{"data":{"name":"yel"},"mark":{"type":"line","color":"#f2f000","strokeWidth":2},"encoding":{"x":{"field":"x","type":"quantitative","scale":{"domain":[0,600],"nice":false,"zero":false},"axis":null},"y":{"field":"v","type":"quantitative","scale":{"domain":[0,61],"nice":false,"zero":false},"axis":null}}},
{"data":{"name":"arr3"},"mark":{"type":"rule","color":"#e61a1a","strokeWidth":2.5,"strokeCap":"round","clip":true},"encoding":{"x":{"field":"x","type":"quantitative","scale":{"domain":[0,600],"nice":false,"zero":false},"axis":null},"x2":{"field":"x2"},"y":{"field":"v","type":"quantitative","scale":{"domain":[0,61],"nice":false,"zero":false},"axis":null},"y2":{"field":"v2"}}},
{"data":{"values":[{"x":513,"v":4,"x2":525,"v2":9}]},"mark":{"type":"rule","color":"#8a8a8a","strokeWidth":1},"encoding":{"x":{"field":"x","type":"quantitative","scale":{"domain":[0,600],"nice":false,"zero":false},"axis":null},"x2":{"field":"x2"},"y":{"field":"v","type":"quantitative","scale":{"domain":[0,61],"nice":false,"zero":false},"axis":null},"y2":{"field":"v2"}}},
{"data":{"values":[{}]},"mark":{"type":"rule","color":"#b4b4b4","strokeWidth":2},"encoding":{"y":{"datum":61,"type":"quantitative","scale":{"domain":[0,61],"nice":false,"zero":false},"axis":null}}}
]},
{"width":600,"height":65,
"layer":[
{"data":{"values":[{}]},"mark":{"type":"rule","color":"#5a5a5a","strokeDash":[1,2]},"encoding":{"x":{"datum":548,"type":"quantitative","scale":{"domain":[0,600],"nice":false,"zero":false},"axis":null}}},
{"data":{"name":"hist"},"mark":{"type":"bar","size":3},"encoding":{"x":{"field":"x","type":"quantitative","scale":{"domain":[0,600],"nice":false,"zero":false},"axis":null},"y":{"field":"v","type":"quantitative","scale":{"domain":[-35,30],"nice":false,"zero":false},"axis":null},"y2":{"datum":0},"color":{"condition":{"test":"datum.v > 0","value":"#e0309a"},"value":"#3a8ee0"}}},
{"data":{"name":"dot4"},"mark":{"type":"line","color":"#806040","strokeWidth":1,"strokeDash":[2,2]},"encoding":{"x":{"field":"x","type":"quantitative","scale":{"domain":[0,600],"nice":false,"zero":false},"axis":null},"y":{"field":"v","type":"quantitative","scale":{"domain":[-35,30],"nice":false,"zero":false},"axis":null}}},
{"data":{"name":"orange"},"mark":{"type":"line","color":"#ec6a1e","strokeWidth":1.5},"encoding":{"x":{"field":"x","type":"quantitative","scale":{"domain":[0,600],"nice":false,"zero":false},"axis":null},"y":{"field":"v","type":"quantitative","scale":{"domain":[-35,30],"nice":false,"zero":false},"axis":null}}},
{"data":{"name":"light"},"mark":{"type":"line","color":"#bfe4e4","strokeWidth":1.5},"encoding":{"x":{"field":"x","type":"quantitative","scale":{"domain":[0,600],"nice":false,"zero":false},"axis":null},"y":{"field":"v","type":"quantitative","scale":{"domain":[-35,30],"nice":false,"zero":false},"axis":null}}},
{"data":{"values":[{"x":4,"v":-15,"v2":30},{"x":6.5,"v":-15,"v2":30}]},"mark":{"type":"rule","color":"#f2f000","strokeWidth":1.5},"encoding":{"x":{"field":"x","type":"quantitative","scale":{"domain":[0,600],"nice":false,"zero":false},"axis":null},"y":{"field":"v","type":"quantitative","scale":{"domain":[-35,30],"nice":false,"zero":false},"axis":null},"y2":{"field":"v2"}}},
{"data":{"values":[{"x":596,"v":-29,"t":"[1395x852] https://upic.me/"}]},"mark":{"type":"text","color":"#ffffff","fontSize":13,"font":"Liberation Sans","align":"right","baseline":"alphabetic"},"encoding":{"x":{"field":"x","type":"quantitative","scale":{"domain":[0,600],"nice":false,"zero":false},"axis":null},"y":{"field":"v","type":"quantitative","scale":{"domain":[-35,30],"nice":false,"zero":false},"axis":null},"text":{"field":"t"}}},
{"data":{"values":[{}]},"mark":{"type":"rule","color":"#b4b4b4","strokeWidth":2},"encoding":{"y":{"datum":30,"type":"quantitative","scale":{"domain":[-35,30],"nice":false,"zero":false},"axis":null}}}
]}
]
}
